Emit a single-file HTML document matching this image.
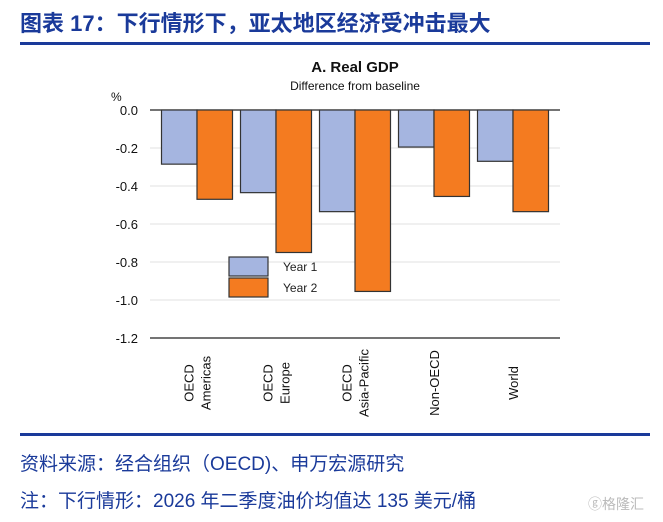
<!DOCTYPE html>
<html><head><meta charset="utf-8"><style>
body{margin:0;width:663px;height:522px;background:#fff;overflow:hidden;font-family:"Liberation Sans","Noto Sans CJK SC",sans-serif;position:relative}
.t{position:absolute;white-space:nowrap}
</style></head><body>
<div class="t" style="left:20px;top:6px;font-size:22px;font-weight:bold;color:#1a3a9a">图表 17：下行情形下，亚太地区经济受冲击最大</div>
<div style="position:absolute;left:20px;top:42px;width:630px;height:3px;background:#1a3a9a"></div>
<svg style="position:absolute;left:0;top:0" width="663" height="430" font-family="Liberation Sans, sans-serif">
<text x="355" y="72" text-anchor="middle" font-size="15" font-weight="bold" fill="#111">A. Real GDP</text>
<text x="355" y="90" text-anchor="middle" font-size="12" fill="#111">Difference from baseline</text>
<text x="111" y="101" font-size="12" fill="#111">%</text>
<g id="grid"></g><g id="bars"></g><g id="xl"></g>
<g>
<rect x="229" y="257" width="39" height="19" fill="#a5b5e0" stroke="#333" stroke-width="1.2"/>
<rect x="229" y="278" width="39" height="19" fill="#f47b20" stroke="#333" stroke-width="1.2"/>
<text x="283" y="271" font-size="12" fill="#222">Year 1</text>
<text x="283" y="292" font-size="12" fill="#222">Year 2</text>
</g>
</svg>
<div style="position:absolute;left:20px;top:433px;width:630px;height:3px;background:#1a3a9a"></div>
<div class="t" style="left:20px;top:449px;font-size:19px;color:#1a3a9a">资料来源：经合组织（OECD)、申万宏源研究</div>
<div class="t" style="left:20px;top:486px;font-size:19px;color:#1a3a9a">注：下行情形：2026 年二季度油价均值达 135 美元/桶</div>
<div class="t" style="left:588px;top:494px;font-size:14px;color:#bbb">ⓖ格隆汇</div>
<script>
const categories=[["OECD","Americas"],["OECD","Europe"],["OECD","Asia-Pacific"],["Non-OECD"],["World"]];
const year1=[-0.285,-0.435,-0.535,-0.195,-0.27];
const year2=[-0.47,-0.75,-0.955,-0.455,-0.535];
const ticks=[0,-0.2,-0.4,-0.6,-0.8,-1.0,-1.2];
const NS="http://www.w3.org/2000/svg";
const x0=150,x1=560,y0=110,yScale=v=>y0-v/1.2*228;
const firstCenter=197,step=79;
const xCenter=i=>firstCenter+step*i;
const g=document.getElementById('grid'),b=document.getElementById('bars'),xl=document.getElementById('xl');
function mk(tag,at,p){const e=document.createElementNS(NS,tag);for(const k in at)e.setAttribute(k,at[k]);p.appendChild(e);return e;}
ticks.forEach((t,i)=>{
 const y=yScale(t);
 const edge=(t===0||i===ticks.length-1);
 const l=mk('line',{x1:x0,x2:x1,y1:y,y2:y,stroke:edge?'#222':'#e2e2e2','stroke-width':edge?1.3:1},g);
 
 
 const tx=mk('text',{x:138,y:y+5,'text-anchor':'end','font-size':13,fill:'#111'},g);
 tx.textContent=t.toFixed(1);
 
 
});
categories.forEach((c,i)=>{
 const cx=xCenter(i), bw=35.5;
 [[year1[i],'#a5b5e0',cx-bw],[year2[i],'#f47b20',cx]].forEach((d,j)=>{
  const r=mk('rect',{x:d[2],y:y0,width:bw,height:yScale(d[0])-y0,fill:d[1],stroke:'#333','stroke-width':1.2},b);
  
  
 });
 const n=c.length;
 c.forEach((s,k)=>{
  const lx=cx-(n-1)*8.5+k*17+5;
  const t=mk('text',{x:lx,y:383,'text-anchor':'middle','font-size':13,fill:'#111',transform:`rotate(-90 ${lx} 383)`},xl);
  t.textContent=s;
  
  
 });
});
</script>
</body></html>
